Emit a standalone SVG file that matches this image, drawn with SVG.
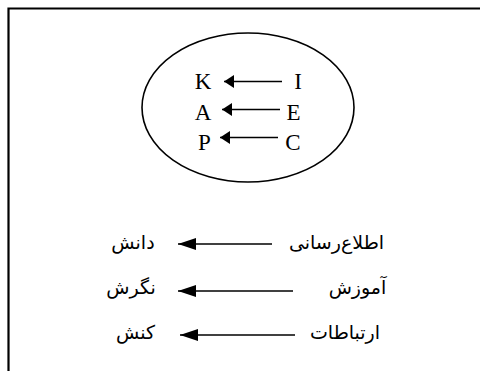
<svg xmlns="http://www.w3.org/2000/svg" width="480" height="371" viewBox="0 0 480 371">
<style>
.lat{font-family:"Liberation Serif","DejaVu Serif",serif;font-size:23px;fill:#000;text-anchor:middle}
.fa{font-family:"DejaVu Sans","Noto Sans",sans-serif;font-size:19px;fill:#000;text-anchor:middle}
.ln{stroke:#000;stroke-width:1.6;fill:none}
</style>
<defs>
<marker id="hs" markerUnits="userSpaceOnUse" markerWidth="10" markerHeight="13" refX="10" refY="6.5" orient="auto" viewBox="0 0 10 13"><path d="M10,6.5 L0,0 L0,13 Z" fill="#000"/></marker>
<marker id="hl" markerUnits="userSpaceOnUse" markerWidth="18" markerHeight="12" refX="18" refY="6" orient="auto" viewBox="0 0 18 12"><path d="M18,6 L0,0 L0,12 Z" fill="#000"/></marker>
</defs>
<rect width="480" height="371" fill="#fff"/>
<g id="frame"><path d="M8.5,371 V8.5 H480" stroke="#000" stroke-width="2.2" fill="none"/></g>
<g id="ellipse"><ellipse cx="248" cy="107.5" rx="106" ry="74.5" class="ln"/></g>
<g id="n-K"><text class="lat" x="203" y="88.5">K</text></g>
<g id="n-A"><text class="lat" x="203" y="119.5">A</text></g>
<g id="n-P"><text class="lat" x="204.5" y="149.5">P</text></g>
<g id="n-I"><text class="lat" x="298" y="88.5">I</text></g>
<g id="n-E"><text class="lat" x="293.5" y="119.5">E</text></g>
<g id="n-C"><text class="lat" x="293" y="149.5">C</text></g>
<g id="n-danesh"><text class="fa" x="133" y="249">دانش</text></g>
<g id="n-negaresh"><text class="fa" x="131" y="294">نگرش</text></g>
<g id="n-konesh"><text class="fa" x="135.5" y="339">کنش</text></g>
<g id="n-ettela"><text class="fa" x="336.5" y="249">اطلاع‌رسانی</text></g>
<g id="n-amoozesh"><text class="fa" x="357.5" y="294">آموزش</text></g>
<g id="n-ertebatat"><text class="fa" x="345" y="339">ارتباطات</text></g>
<g id="connectors">
<path class="ln" d="M282,81.5 H224" marker-end="url(#hs)"/>
<path class="ln" d="M280,109.5 H222" marker-end="url(#hs)"/>
<path class="ln" d="M278,137.5 H220" marker-end="url(#hs)"/>
<path class="ln" d="M272,244 H178" marker-end="url(#hl)"/>
<path class="ln" d="M293,291 H178" marker-end="url(#hl)"/>
<path class="ln" d="M295,335 H180" marker-end="url(#hl)"/>
</g>
</svg>
